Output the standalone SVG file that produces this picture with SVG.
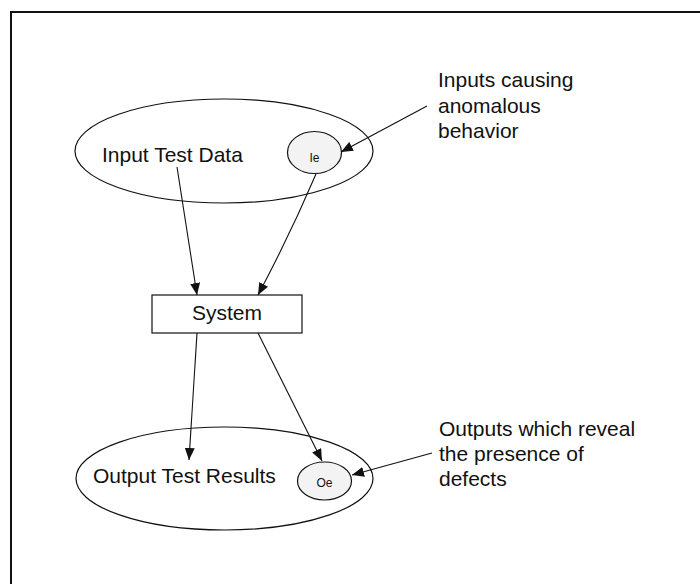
<svg xmlns="http://www.w3.org/2000/svg" width="700" height="584" viewBox="0 0 700 584">
  <style>
    text { font-family: "Liberation Sans", Arial, sans-serif; fill: #111; }
    .lbl { font-size: 21px; }
    .small { font-size: 12px; text-anchor: middle; }
    .shape { fill: none; stroke: #111; stroke-width: 1.2; }
    .sub { fill: #f3f3f3; stroke: #111; stroke-width: 1.2; }
    .conn { fill: none; stroke: #111; stroke-width: 1.1; marker-end: url(#arrow); }
  </style>
  <defs>
    <marker id="arrow" viewBox="0 0 12 10" refX="12" refY="5" markerWidth="12" markerHeight="10" markerUnits="userSpaceOnUse" orient="auto">
      <path d="M0,0 L12,5 L0,10 Z" fill="#111"/>
    </marker>
  </defs>

  <rect width="700" height="584" fill="#fff"/>
  <!-- outer frame (only top and left edges fall inside the page) -->
  <path d="M11,584 L11,12 L700,12" fill="none" stroke="#111" stroke-width="2"/>

  <g id="input-data">
    <ellipse class="shape" cx="224" cy="151" rx="149" ry="52"/>
    <text class="lbl" x="102" y="162">Input Test Data</text>
  </g>
  <g id="ie">
    <ellipse class="sub" cx="314.5" cy="152.5" rx="27" ry="21"/>
    <text class="small" x="314.5" y="162">Ie</text>
  </g>
  <g id="system">
    <rect class="shape" x="152" y="295" width="150" height="38"/>
    <text class="lbl" x="227" y="320" text-anchor="middle">System</text>
  </g>
  <g id="output-results">
    <ellipse class="shape" cx="224.5" cy="478.5" rx="148.5" ry="51.5"/>
    <text class="lbl" x="93" y="483">Output Test Results</text>
  </g>
  <g id="oe">
    <ellipse class="sub" cx="324.5" cy="481" rx="27" ry="19"/>
    <text class="small" x="324.5" y="487">Oe</text>
  </g>
  <g id="note-inputs">
    <text class="lbl" x="438" y="87">Inputs causing</text>
    <text class="lbl" x="438" y="113">anomalous</text>
    <text class="lbl" x="438" y="138">behavior</text>
  </g>
  <g id="note-outputs">
    <text class="lbl" x="439" y="436">Outputs which reveal</text>
    <text class="lbl" x="439" y="461">the presence of</text>
    <text class="lbl" x="439" y="486">defects</text>
  </g>

  <g id="connectors">
    <path class="conn" d="M177,167 L197,295"/>
    <path class="conn" d="M316,174 Q290,235 258,295"/>
    <path class="conn" d="M197,333 L189,460"/>
    <path class="conn" d="M258,333 L322,461"/>
    <path class="conn" d="M427,106 L341,152"/>
    <path class="conn" d="M432,453 L352,475"/>
  </g>
</svg>
